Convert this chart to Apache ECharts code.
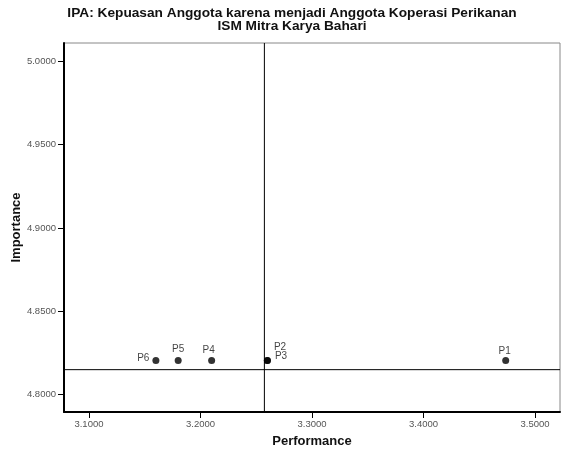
<!DOCTYPE html>
<html>
<head>
<meta charset="utf-8">
<script src="https://cdn.jsdelivr.net/npm/echarts@6/dist/echarts.min.js"></script>
<style>html,body{margin:0;padding:0;background:#fff;}#c{width:562px;height:452px;}</style>
</head>
<body>
<div id="c"></div>
<script>
var labels = ['P1', 'P2', 'P3', 'P4', 'P5', 'P6'];
var performance = [3.4737, 3.2600, 3.2600, 3.2100, 3.1800, 3.1600];
var importance = [4.8205, 4.8205, 4.8205, 4.8205, 4.8205, 4.8205];
var xTicks = [3.1, 3.2, 3.3, 3.4, 3.5];
var yTicks = [4.80, 4.85, 4.90, 4.95, 5.00];
var meanPerformance = 3.2573;
var meanImportance = 4.8150;
var xRange = [3.0776, 3.5224];
var yRange = [4.7896, 5.011];

var labelPos = {
  P1: { position: 'top', offset: [-1, 2] },
  P2: { position: 'right', offset: [0, -13] },
  P3: { position: 'right', offset: [1, -4] },
  P4: { position: 'top', offset: [-3, 1] },
  P5: { position: 'top', offset: [0, 0] },
  P6: { position: 'left', offset: [0, -2] }
};

var data = labels.map(function (n, i) {
  var lp = labelPos[n];
  return {
    name: n,
    value: [performance[i], importance[i]],
    label: { show: true, position: lp.position, offset: lp.offset, distance: 3 }
  };
});

var refLineStyle = { color: '#000', width: 1, type: 'solid' };

var chart = echarts.init(document.getElementById('c'), null, { renderer: 'canvas' });
chart.setOption({
  animation: false,
  backgroundColor: '#fff',
  title: {
    text: 'IPA: Kepuasan Anggota karena menjadi Anggota Koperasi Perikanan\nISM Mitra Karya Bahari',
    left: 287, top: 2, textAlign: 'center',
    textStyle: { fontFamily: 'Liberation Sans', fontSize: 13.7, fontWeight: 'bold', color: '#111', lineHeight: 13 }
  },
  grid: {
    left: 64, right: 2, top: 43, bottom: 40,
    containLabel: false, outerBoundsMode: 'none',
    show: true, borderColor: '#888', borderWidth: 1, backgroundColor: '#fff'
  },
  xAxis: {
    type: 'value', min: xRange[0], max: xRange[1],
    name: 'Performance', nameLocation: 'middle', nameGap: 23, nameMoveOverlap: false,
    nameTextStyle: { fontFamily: 'Liberation Sans', fontSize: 13, fontWeight: 'bold', color: '#111' },
    axisLine: { show: true, onZero: false, lineStyle: { color: '#000', width: 2 } },
    axisTick: { show: true, length: 6, customValues: xTicks, lineStyle: { color: '#000', width: 1 } },
    axisLabel: { customValues: xTicks, fontFamily: 'Liberation Sans', fontSize: 9.5, color: '#555', margin: 7,
      formatter: function (v) { return v.toFixed(4); } },
    splitLine: { show: false }
  },
  yAxis: {
    type: 'value', min: yRange[0], max: yRange[1],
    name: 'Importance', nameLocation: 'middle', nameGap: 41, nameRotate: 90, nameMoveOverlap: false,
    nameTextStyle: { fontFamily: 'Liberation Sans', fontSize: 13, fontWeight: 'bold', color: '#111' },
    axisLine: { show: true, onZero: false, lineStyle: { color: '#000', width: 2 } },
    axisTick: { show: true, length: 6, customValues: yTicks, lineStyle: { color: '#000', width: 1 } },
    axisLabel: { customValues: yTicks, fontFamily: 'Liberation Sans', fontSize: 9.5, color: '#555', margin: 8,
      formatter: function (v) { return v.toFixed(4); } },
    splitLine: { show: false }
  },
  series: [{
    type: 'line', silent: true, symbol: 'none', z: 1,
    lineStyle: refLineStyle,
    data: [[meanPerformance, yRange[0]], [meanPerformance, yRange[1]]]
  }, {
    type: 'line', silent: true, symbol: 'none', z: 1,
    lineStyle: refLineStyle,
    data: [[xRange[0], meanImportance], [xRange[1], meanImportance]]
  }, {
    type: 'scatter',
    symbol: 'circle',
    symbolSize: 7,
    z: 3,
    itemStyle: { color: '#000' },
    label: { fontFamily: 'Liberation Sans', fontSize: 10, color: '#111',
      formatter: function (p) { return p.name; } },
    data: data
  }]
});
</script>
</body>
</html>
